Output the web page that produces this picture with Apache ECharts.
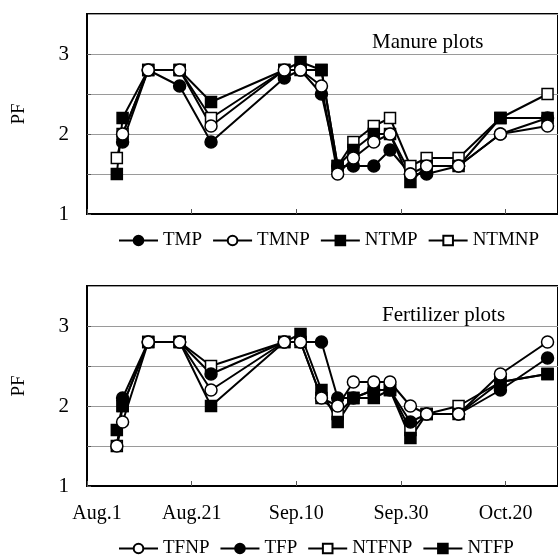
<!DOCTYPE html>
<html>
<head>
<meta charset="utf-8">
<script src="https://cdn.jsdelivr.net/npm/echarts@6/dist/echarts.min.js"></script>
<style>
  html, body { margin: 0; padding: 0; background: #fff; }
  #chart { width: 558px; height: 557px; }
</style>
</head>
<body>
<div id="chart"></div>
<script>
// Sampling dates as days after Aug. 1
const sampleDays = [5.7, 6.8, 11.7, 17.7, 23.7, 37.7, 40.8, 44.8, 47.9, 50.9, 54.8, 57.9, 61.8, 64.9, 71.0, 79.0, 88.0];

// Date tick positions (days after Aug. 1) and their labels
const tickDays = [0, 20, 40, 60, 80];
const tickLabels = ['Aug.1', 'Aug.21', 'Sep.10', 'Sep.30', 'Oct.20'];

// Manure plots
const TMP    = [null, 1.9, 2.8, 2.6, 1.9, 2.7, 2.8, 2.5, 1.6, 1.6, 1.6, 1.8, 1.5, 1.5, 1.6, 2.0, 2.2];
const TMNP   = [null, 2.0, 2.8, 2.8, 2.1, 2.8, 2.8, 2.6, 1.5, 1.7, 1.9, 2.0, 1.5, 1.6, 1.6, 2.0, 2.1];
const NTMP   = [1.5, 2.2, 2.8, 2.8, 2.4, 2.8, 2.9, 2.8, 1.6, 1.8, 2.0, 2.0, 1.4, 1.6, 1.6, 2.2, 2.2];
const NTMNP  = [1.7, 2.0, 2.8, 2.8, 2.2, 2.8, 2.8, 2.8, 1.6, 1.9, 2.1, 2.2, 1.6, 1.7, 1.7, 2.2, 2.5];

// Fertilizer plots
const TFNP   = [1.5, 1.8, 2.8, 2.8, 2.2, 2.8, 2.8, 2.1, 2.0, 2.3, 2.3, 2.3, 2.0, 1.9, 1.9, 2.4, 2.8];
const TFP    = [null, 2.1, 2.8, 2.8, 2.4, 2.8, 2.8, 2.8, 2.1, 2.1, 2.2, 2.2, 1.8, 1.9, 1.9, 2.2, 2.6];
const NTFNP  = [1.5, 2.0, 2.8, 2.8, 2.5, 2.8, 2.8, 2.1, 1.9, 2.1, 2.2, 2.2, 1.7, 1.9, 2.0, 2.3, 2.4];
const NTFP   = [1.7, 2.0, 2.8, 2.8, 2.0, 2.8, 2.9, 2.2, 1.8, 2.1, 2.1, 2.2, 1.6, 1.9, 1.9, 2.3, 2.4];

const FONT = 'Liberation Serif';
const chart = echarts.init(document.getElementById('chart'), null, { renderer: 'canvas' });

function pairs(vals) {
  return sampleDays.map((d, i) => [d, vals[i] === null ? '-' : vals[i]]);
}

function makeSeries(name, vals, symbol, filled, gridIdx) {
  return {
    name: name,
    type: 'line',
    xAxisIndex: gridIdx,
    yAxisIndex: gridIdx,
    data: pairs(vals),
    symbol: symbol,
    symbolSize: symbol === 'rect' ? 11 : 12,
    showAllSymbol: true,
    connectNulls: false,
    lineStyle: { color: '#000', width: 2 },
    itemStyle: { color: filled ? '#000' : '#fff', borderColor: '#000', borderWidth: 1.5 },
    emphasis: { disabled: true },
    animation: false
  };
}

function xAxisFor(gridIdx, showLabels) {
  return {
    type: 'value',
    gridIndex: gridIdx,
    min: 0,
    max: 90,
    interval: 20,
    axisLine: { show: true, lineStyle: { color: '#000', width: 2 } },
    axisTick: { show: true, inside: true, length: 5, lineStyle: { color: '#555', width: 1 } },
    splitLine: { show: false },
    axisLabel: {
      show: showLabels,
      showMaxLabel: false,
      margin: 18,
      color: '#000',
      fontFamily: FONT,
      fontSize: 20,
      formatter: function (v) {
        const i = tickDays.indexOf(v);
        if (i < 0) return '';
        return i === 0 ? '{first|' + tickLabels[0] + '}' : tickLabels[i];
      },
      rich: {
        first: { padding: [0, 0, 0, 20], fontFamily: FONT, fontSize: 20, color: '#000' }
      }
    }
  };
}

function yAxisFor(gridIdx) {
  return {
    type: 'value',
    gridIndex: gridIdx,
    min: 1,
    max: 3.5,
    interval: 0.5,
    name: 'PF',
    nameLocation: 'middle',
    nameRotate: 90,
    nameGap: 58,
    nameTextStyle: { fontFamily: FONT, fontSize: 19, color: '#000' },
    axisLine: { show: true, lineStyle: { color: '#000', width: 2 } },
    axisTick: { show: true, inside: true, length: 4, lineStyle: { color: '#555', width: 1 } },
    splitLine: { show: true, lineStyle: { color: '#9a9a9a', width: 1 } },
    axisLabel: {
      margin: 18,
      color: '#000',
      fontFamily: FONT,
      fontSize: 21,
      showMaxLabel: false,
      formatter: function (v) { return Number.isInteger(v) ? String(v) : ''; }
    }
  };
}

const legendText = { fontFamily: FONT, fontSize: 19, color: '#000' };

const option = {
  backgroundColor: '#fff',
  animation: false,
  title: [
    { text: 'Manure plots', left: 367, top: 27, textStyle: { fontFamily: FONT, fontSize: 21, fontWeight: 'normal', color: '#000' } },
    { text: 'Fertilizer plots', left: 377, top: 300, textStyle: { fontFamily: FONT, fontSize: 21, fontWeight: 'normal', color: '#000' } }
  ],
  grid: [
    { left: 87, top: 14, width: 477, height: 200, show: true, borderColor: '#000', borderWidth: 2, backgroundColor: 'transparent' },
    { left: 87, top: 286, width: 477, height: 200, show: true, borderColor: '#000', borderWidth: 2, backgroundColor: 'transparent' }
  ],
  xAxis: [xAxisFor(0, false), xAxisFor(1, true)],
  yAxis: [yAxisFor(0), yAxisFor(1)],
  legend: [
    {
      data: ['TMP', 'TMNP', 'NTMP', 'NTMNP'],
      left: 118, top: 231, padding: 0,
      itemWidth: 39, itemHeight: 12, itemGap: 10,
      textStyle: legendText,
      selectedMode: false
    },
    {
      data: ['TFNP', 'TFP', 'NTFNP', 'NTFP'],
      left: 118, top: 539, padding: 0,
      itemWidth: 39, itemHeight: 12, itemGap: 10,
      textStyle: legendText,
      selectedMode: false
    }
  ],
  series: [
    makeSeries('NTMNP', NTMNP, 'rect', false, 0),
    makeSeries('NTMP', NTMP, 'rect', true, 0),
    makeSeries('TMP', TMP, 'circle', true, 0),
    makeSeries('TMNP', TMNP, 'circle', false, 0),
    makeSeries('NTFNP', NTFNP, 'rect', false, 1),
    makeSeries('NTFP', NTFP, 'rect', true, 1),
    makeSeries('TFP', TFP, 'circle', true, 1),
    makeSeries('TFNP', TFNP, 'circle', false, 1)
  ]
};

chart.setOption(option);
</script>
</body>
</html>
